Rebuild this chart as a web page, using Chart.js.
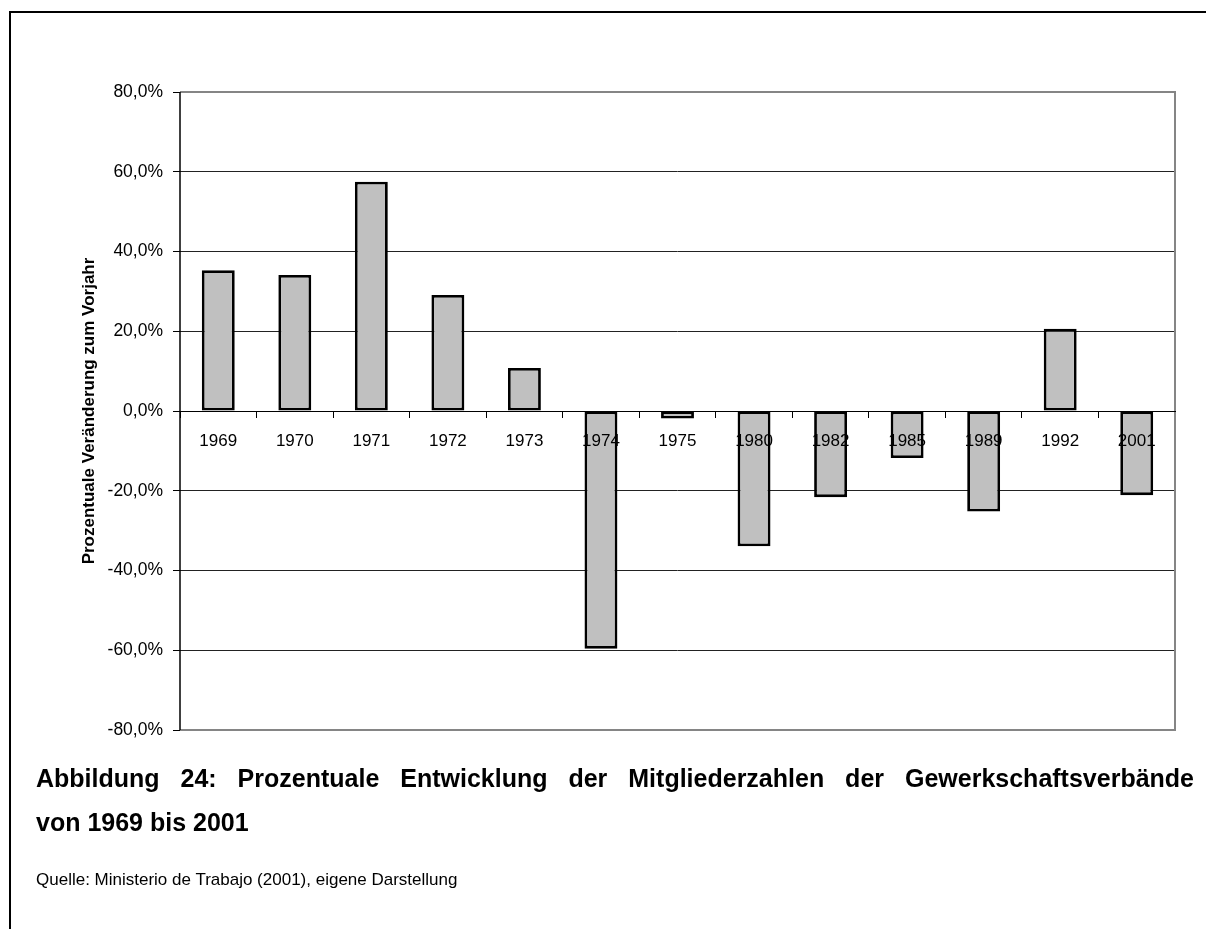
<!DOCTYPE html>
<html lang="de">
<head>
<meta charset="utf-8">
<script src="https://cdn.jsdelivr.net/npm/chart.js@4/dist/chart.umd.min.js"></script>
<style>
  html, body { margin: 0; padding: 0; background: #fff; }
  body { width: 1206px; height: 929px; position: relative; overflow: hidden;
         font-family: "Liberation Sans", Arial, sans-serif; color: #000; }
  #frame { position: absolute; left: 9px; top: 11px; width: 1300px; height: 1000px;
           border-left: 2px solid #000; border-top: 2px solid #000; }
  #wrap { position: absolute; left: 0; top: 0; width: 1206px; height: 929px; }
  #caption { position: absolute; left: 36px; top: 756px; width: 1158px;
             font-weight: bold; font-size: 25px; line-height: 44px; }
  #caption .l1 { text-align: justify; text-align-last: justify; }
  #source { position: absolute; left: 36px; top: 870px; font-size: 17px; }
</style>
</head>
<body>
<div id="frame"></div>
<div id="wrap"><canvas id="chart"></canvas></div>
<div id="caption">
  <div class="l1">Abbildung 24: Prozentuale Entwicklung der Mitgliederzahlen der Gewerkschaftsverbände</div>
  <div>von 1969 bis 2001</div>
</div>
<div id="source">Quelle: Ministerio de Trabajo (2001), eigene Darstellung</div>
<script>
// Jahre und prozentuale Veränderung der Mitgliederzahlen zum Vorjahr
const years = ['1969', '1970', '1971', '1972', '1973', '1974', '1975', '1980', '1982', '1985', '1989', '1992', '2001'];
const changePct = [35.3, 34.1, 57.5, 29.1, 10.8, -59.6, -1.9, -33.9, -21.6, -11.8, -25.2, 20.6, -21.1];
const yTicks = [-80, -60, -40, -20, 0, 20, 40, 60, 80];
const yTitle = 'Prozentuale Veränderung zum Vorjahr';

const fmt = v => v.toFixed(1).replace('.', ',') + '%';

// grauer Rahmen um die Zeichenfläche, schwarze Werteachse links
const plotBorder = {
  id: 'plotBorder',
  afterDatasetsDraw(chart) {
    const { ctx, chartArea: a } = chart;
    ctx.save();
    ctx.strokeStyle = '#858585';
    ctx.lineWidth = 2;
    ctx.beginPath();
    ctx.moveTo(a.left, a.top);
    ctx.lineTo(a.right, a.top);
    ctx.lineTo(a.right, a.bottom);
    ctx.lineTo(a.left, a.bottom);
    ctx.stroke();
    ctx.strokeStyle = '#000';
    ctx.lineWidth = 1.5;
    ctx.beginPath();
    ctx.moveTo(a.left, a.top);
    ctx.lineTo(a.left, a.bottom);
    ctx.stroke();
    ctx.restore();
  }
};

new Chart(document.getElementById('chart'), {
  type: 'bar',
  data: {
    labels: years,
    datasets: [{
      data: changePct,
      backgroundColor: '#c0c0c0',
      borderColor: '#000',
      borderWidth: 2.8,
      borderSkipped: false,
      barPercentage: 0.43,
      categoryPercentage: 1.0
    }]
  },
  options: {
    responsive: true,
    maintainAspectRatio: false,
    animation: false,
    events: [],
    layout: { padding: { left: 79, top: 92, right: 31, bottom: 199 } },
    plugins: { legend: { display: false }, tooltip: { enabled: false } },
    scales: {
      x: {
        position: { y: 0 },
        offset: true,
        grid: { display: true, drawOnChartArea: false, drawTicks: true, tickLength: 6,
                color: '#000', lineWidth: 1, offset: true },
        border: { display: true, color: '#000', width: 1, z: 1 },
        ticks: { color: '#000', font: { family: 'Liberation Sans', size: 17 }, padding: 14,
                 maxRotation: 0, autoSkip: false, z: 2 }
      },
      y: {
        min: -80, max: 80,
        afterBuildTicks(scale) { scale.ticks = yTicks.map(v => ({ value: v })); },
        afterFit(scale) { scale.width = 101; },
        grid: {
          color: c => (Math.abs(c.tick.value) === 80 ? 'rgba(0,0,0,0)' : '#222'),
          tickColor: '#000', lineWidth: 1, tickLength: 7
        },
        border: { display: false },
        ticks: { color: '#000', font: { family: 'Liberation Sans', size: 17.5 }, padding: 10,
                 callback: v => fmt(v) },
        title: { display: true, text: yTitle, color: '#000', padding: 0,
                 font: { family: 'Liberation Sans', size: 17, weight: 'bold' } }
      }
    }
  },
  plugins: [plotBorder]
});
</script>
</body>
</html>
